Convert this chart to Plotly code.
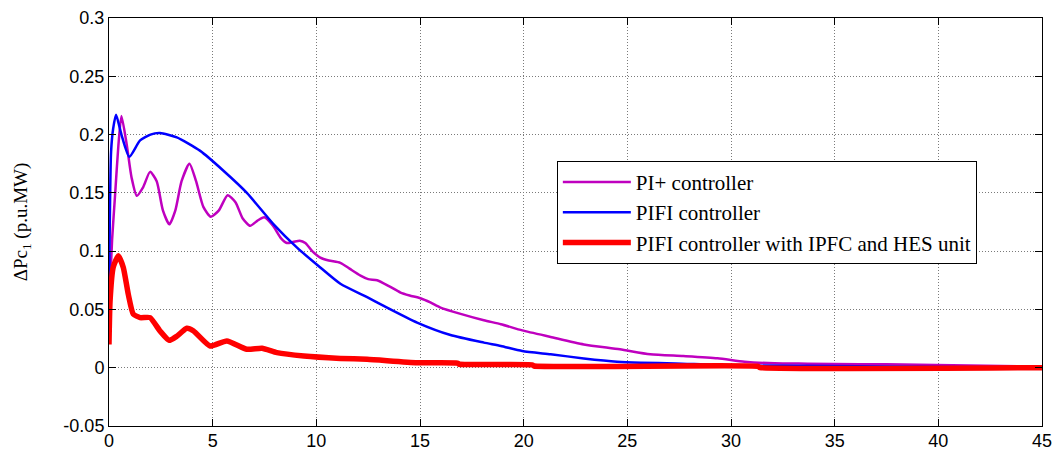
import plotly.graph_objects as go

# PI+ controller
t_pi = [0, 0.15, 0.3, 0.45, 0.6, 0.85, 1.09, 1.34, 1.65, 1.98, 2.3, 2.6, 2.91, 3.2, 3.5, 3.88,
        4.2, 4.55, 4.91, 5.3, 5.72, 6.1, 6.45, 6.81, 7.15, 7.49, 7.9, 8.3, 8.58, 8.9, 9.2, 9.47,
        9.8, 10.19, 10.6, 11.16, 11.6, 12.13, 12.5, 12.93, 13.5, 14.06, 14.5, 15.02, 15.5, 15.99,
        17.0, 18.08, 18.9, 19.93, 21.3, 22.9, 24.64, 26.1, 27.7, 29.35, 30.65, 32.1, 33.7, 36.2,
        37.5, 45]
y_pi = [0.05, 0.11, 0.15, 0.19, 0.216, 0.192, 0.163, 0.1475, 0.155, 0.168, 0.16, 0.135, 0.123,
        0.135, 0.16, 0.175, 0.16, 0.138, 0.1295, 0.135, 0.148, 0.142, 0.128, 0.1217, 0.126, 0.129,
        0.122, 0.111, 0.107, 0.108, 0.109, 0.107, 0.1, 0.0945, 0.092, 0.09, 0.085, 0.079, 0.076,
        0.075, 0.07, 0.0645, 0.062, 0.0596, 0.056, 0.0516, 0.046, 0.0407, 0.0373, 0.032, 0.0264,
        0.020, 0.0158, 0.0115, 0.010, 0.0081, 0.0052, 0.0038, 0.0035, 0.003, 0.003, 0.001]

# PIFI controller
t_pifi = [0, 0.1, 0.2, 0.34, 0.6, 0.98, 1.5, 2.0, 2.46, 3.27, 4.4, 5.52, 6.65, 7.94, 9.07,
          10.19, 11.16, 12.45, 13.25, 14.86, 16.47, 18.08, 18.9, 19.93, 21.3, 22.9, 24.5, 25.65,
          27.3, 30, 45]
y_pifi = [0.055, 0.185, 0.205, 0.217, 0.2, 0.181, 0.195, 0.2, 0.2013, 0.1976, 0.186, 0.169,
          0.150, 0.123, 0.103, 0.086, 0.072, 0.0605, 0.053, 0.0387, 0.028, 0.0215, 0.0186, 0.0143,
          0.0115, 0.008, 0.0052, 0.0043, 0.0037, 0.002, 0.0]

# PIFI controller with IPFC and HES unit
t_hes = [0, 0.05, 0.2, 0.45, 0.69, 0.93, 1.17, 1.5, 1.98, 2.46, 2.9, 3.27, 3.75, 4.08, 4.88,
         5.68, 6.65, 7.38, 8.1, 9.4, 11.16, 12.45, 14.86, 16.8, 16.9, 20.4, 20.5, 31.3, 31.4, 45]
y_hes = [0.02, 0.057, 0.086, 0.096, 0.086, 0.063, 0.046, 0.043, 0.043, 0.0315, 0.0235, 0.027,
         0.0338, 0.0315, 0.0186, 0.023, 0.0158, 0.0167, 0.0129, 0.010, 0.008, 0.0072, 0.0043,
         0.004, 0.003, 0.0025, 0.0015, 0.0012, 0.0002, 0.0]

names = ["PI+ controller", "PIFI controller", "PIFI controller with IPFC and HES unit"]
x_ticks = [0, 5, 10, 15, 20, 25, 30, 35, 40, 45]
y_ticks = [-0.05, 0, 0.05, 0.1, 0.15, 0.2, 0.25, 0.3]
y_ticktext = ["-0.05", "0", "0.05", "0.1", "0.15", "0.2", "0.25", "0.3"]

fig = go.Figure()
fig.add_trace(go.Scatter(x=t_pi, y=y_pi, mode="lines", name=names[0],
                         line=dict(color="#BF00BF", width=2.5, shape="spline", smoothing=0.6)))
fig.add_trace(go.Scatter(x=t_pifi, y=y_pifi, mode="lines", name=names[1],
                         line=dict(color="#0000FF", width=2.5, shape="spline", smoothing=0.6)))
fig.add_trace(go.Scatter(x=t_hes, y=y_hes, mode="lines", name=names[2],
                         line=dict(color="#FF0000", width=5.5, shape="spline", smoothing=0.5)))

axis_common = dict(showline=True, linecolor="black", linewidth=1, mirror="ticks",
                   ticks="inside", ticklen=7, tickcolor="black",
                   showgrid=True, gridcolor="#7a7a7a", griddash="1px,2px", gridwidth=1,
                   zeroline=False,
                   tickfont=dict(family="Liberation Sans, Arial", size=18, color="black"))

fig.update_xaxes(range=[0, 45], tickvals=x_ticks, ticklabelstandoff=-2, **axis_common)
fig.update_yaxes(range=[-0.05, 0.3], tickvals=y_ticks, ticktext=y_ticktext,
                 title=dict(text="ΔPc<sub>1</sub> (p.u.MW)", standoff=30,
                            font=dict(family="Liberation Serif, Times New Roman", size=19,
                                      color="black")),
                 **axis_common)

fig.update_layout(
    width=1057, height=450,
    margin=dict(l=109, r=15, t=18, b=24, autoexpand=False),
    paper_bgcolor="white", plot_bgcolor="white",
    showlegend=True,
    legend=dict(x=0.48, y=0.65, xanchor="left", yanchor="top",
                bgcolor="white", bordercolor="black", borderwidth=1,
                font=dict(family="Liberation Serif, Times New Roman", size=21, color="black"),
                tracegroupgap=0, itemwidth=68),
)

fig.write_html("out.html")
